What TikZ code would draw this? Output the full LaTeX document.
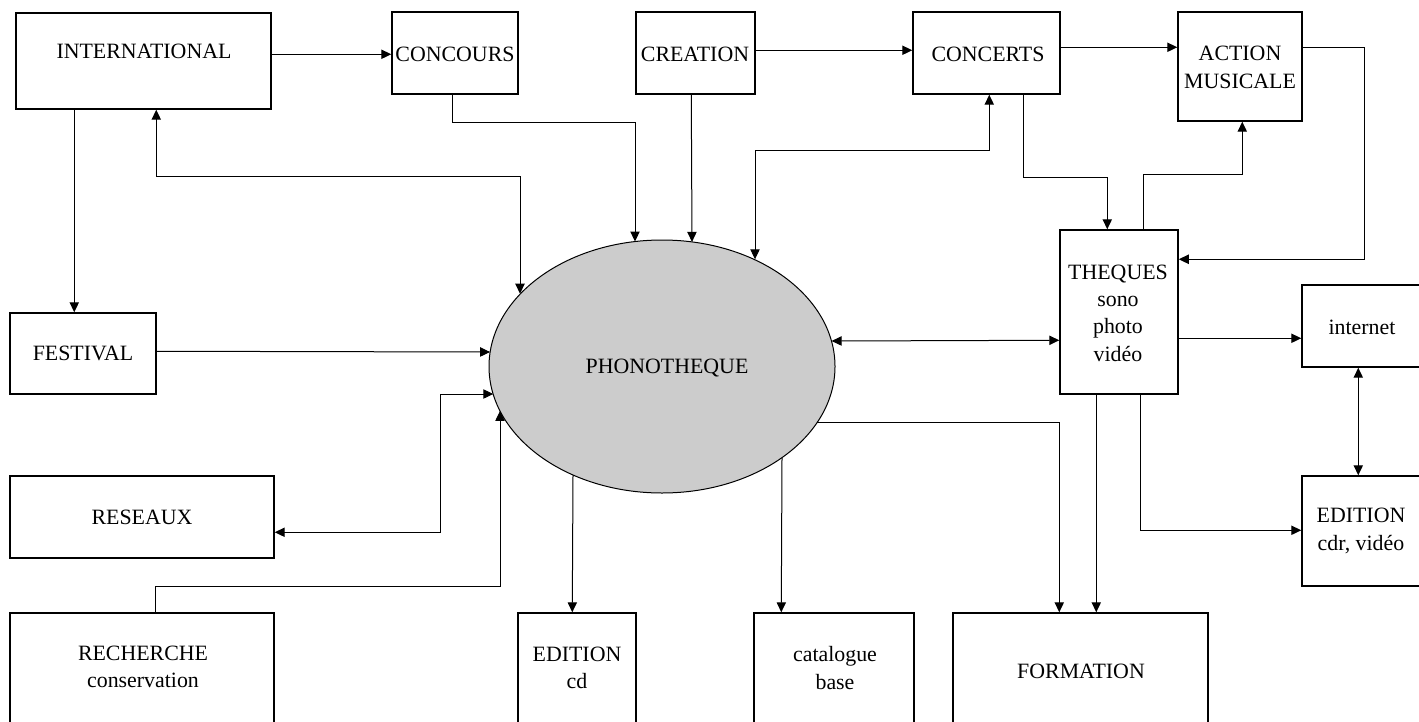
\documentclass[tikz,border=0pt]{standalone}
\usepackage{fontspec}
\setmainfont{Liberation Serif}
\usetikzlibrary{arrows.meta,fit,shapes.geometric,calc}
\begin{document}
\begin{tikzpicture}[x=0.75pt,y=-0.75pt,
  box/.style={draw,line width=1.1pt,inner sep=0pt},
  txt/.style={font=\fontsize{16.4}{20.5}\selectfont,align=center,inner sep=0pt},
  conn/.style={line width=0.75pt,-{Triangle[length=7.5pt,width=7pt]}},
  conntwo/.style={line width=0.75pt,{Triangle[length=7.5pt,width=7pt]}-{Triangle[length=7.5pt,width=7pt]}}]
\useasboundingbox (0,0) rectangle (1419,721);
\clip (0,0) rectangle (1419,721);
% boxes
\node[box,fit={(16,13)(271,109)}] (intl) {};
\node[box,fit={(392,12)(518,94)}] (conc) {};
\node[box,fit={(636,12)(755,94)}] (crea) {};
\node[box,fit={(913,12)(1060,94)}] (cts) {};
\node[box,fit={(1178,12)(1302,121)}] (act) {};
\node[box,fit={(1060,230)(1178,394)}] (theq) {};
\node[box,fit={(1302,285)(1425,367)}] (inet) {};
\node[box,fit={(1302,476)(1425,586)}] (edcdr) {};
\node[box,fit={(953,613)(1208,730)}] (form) {};
\node[box,fit={(754,613)(914,730)}] (cat) {};
\node[box,fit={(518,613)(636,730)}] (edcd) {};
\node[box,fit={(10,613)(274,730)}] (rech) {};
\node[box,fit={(10,476)(274,558)}] (res) {};
\node[box,fit={(10,313)(156,394)}] (fest) {};
\node[ellipse,draw,line width=0.75pt,fill=black!20,minimum width=259.5pt,minimum height=189.75pt,inner sep=0pt] (phono) at (662,366.5) {};
% texts
\node[txt] (intlT) at (144,51) {INTERNATIONAL};
\node[txt] (concT) at (455,54) {CONCOURS};
\node[txt] (creaT) at (695,54) {CREATION};
\node[txt] (ctsT) at (988,54) {CONCERTS};
\node[txt] (actT) at (1240,67.5) {ACTION\\MUSICALE};
\node[txt] (theqT) at (1118,313) {THEQUES\\sono\\photo\\vidéo};
\node[txt] (inetT) at (1362,327) {internet};
\node[txt] (edcdrT) at (1361,531) {EDITION\\cdr, vidéo};
\node[txt] (formT) at (1081,671) {FORMATION};
\node[txt] (catT) at (835,668) {catalogue\\base};
\node[txt] (edcdT) at (577,668) {EDITION\\cd};
\node[txt] (rechT) at (143,667) {RECHERCHE\\conservation};
\node[txt] (resT) at (142,517) {RESEAUX};
\node[txt] (festT) at (83,353) {FESTIVAL};
\node[txt] (phonoT) at (667,368) {PHONOTHEQUE};
% connectors
\draw[conn] ($(intl.north east)+(0,42)$) -- ($(conc.north west)+(0,43)$);
\draw[conn] ($(intl.south west)+(59,0)$) -- ($(fest.north west)+(65,0)$);
\draw[conntwo] ($(intl.south west)+(141,0)$) -- ++(0,67) -| ($(phono.center)+(-142,-72.8)$);
\draw[conn] ($(conc.south west)+(61,0)$) -- ++(0,28) -| ($(phono.center)+(-27,-125)$);
\draw[conn] ($(crea.south west)+(56,0)$) -- ($(phono.center)+(30,-124.6)$);
\draw[conn] ($(crea.north east)+(0,39)$) -- ($(cts.north west)+(0,39)$);
\draw[conntwo] ($(cts.south west)+(77,0)$) -- ++(0,56) -| ($(phono.center)+(93,-107.2)$);
\draw[conn] ($(cts.north east)+(0,36)$) -- ($(act.north west)+(0,36)$);
\draw[conn] ($(cts.south west)+(111,0)$) -- ++(0,83) -| ($(theq.north west)+(48,0)$);
\draw[conn] ($(theq.north west)+(84,0)$) -- ++(0,-55) -| ($(act.south west)+(65,0)$);
\draw[conn] ($(act.north east)+(0,36)$) -- ++(62,0) |- ($(theq.north east)+(0,30)$);
\draw[conn] ($(fest.north east)+(0,39)$) -- ($(phono.center)+(-171.9,-14.5)$);
\draw[conntwo] ($(res.north east)+(0,57)$) -- ++(166,0) |- ($(phono.center)+(-168.7,27.5)$);
\draw[conn] ($(rech.north west)+(146,0)$) -- ++(0,-26) -| ($(phono.center)+(-162,44.4)$);
\draw[conntwo] ($(phono.center)+(169.6,-25.5)$) -- ($(theq.north west)+(0,111)$);
\draw[conn] ($(phono.center)+(-89,108.5)$) -- ($(edcd.north west)+(55,0)$);
\draw[conn] ($(phono.center)+(120,91.1)$) -- ($(cat.north west)+(28,0)$);
\draw[conn] ($(phono.center)+(155.1,55.5)$) -| ($(form.north west)+(107,0)$);
\draw[conn] ($(theq.south west)+(37,0)$) -- ($(form.north west)+(144,0)$);
\draw[conn] ($(theq.south west)+(81,0)$) |- ($(edcdr.north west)+(0,55)$);
\draw[conn] ($(theq.north east)+(0,109)$) -- ($(inet.north west)+(0,54)$);
\draw[conntwo] ($(inet.south west)+(57,0)$) -- ($(edcdr.north west)+(57,0)$);
\end{tikzpicture}
\end{document}
